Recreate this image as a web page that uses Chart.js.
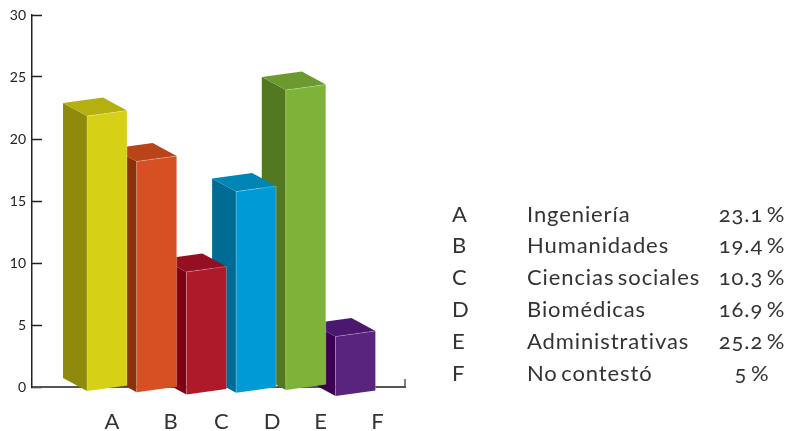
<!DOCTYPE html>
<html>
<head>
<meta charset="utf-8">
<title>Áreas</title>
<script src="https://cdn.jsdelivr.net/npm/chart.js@4"></script>
<style>
  html, body { margin: 0; background: #fff; }
  #wrap { position: relative; width: 790px; height: 431px; overflow: hidden; }
  canvas { display: block; }
  #legend { position: absolute; left: 0; top: 0; font: 22px Lato, sans-serif; letter-spacing: 0.9px; word-spacing: -3px; color: #333; font-variant-numeric: oldstyle-nums; }
  #legend span { position: absolute; white-space: nowrap; line-height: 32px; }
</style>
</head>
<body>
<div id="wrap">
  <canvas id="chart" width="790" height="431"></canvas>
  <div id="legend"></div>
</div>
<script>
const categories = ['A', 'B', 'C', 'D', 'E', 'F'];
const areas = ['Ingeniería', 'Humanidades', 'Ciencias sociales', 'Biomédicas', 'Administrativas', 'No contestó'];
const percentLabels = ['23.1 %', '19.4 %', '10.3 %', '16.9 %', '25.2 %', '5 %'];
const values = [23.1, 19.4, 10.3, 16.9, 25.2, 5];
const yTicks = [0, 5, 10, 15, 20, 25, 30];

const frontColors = ['#d6d016', '#d65023', '#ae1a2a', '#009bd6', '#7fb239', '#59247e'];
const sideColors = ['#8e8a0c', '#8c3208', '#7e0012', '#006b95', '#527822', '#3c0050'];
const topColors = ['#b5af10', '#b8441a', '#921022', '#0086b5', '#6c9a2e', '#4b1870'];

// the drawing is a bit loose: labels are not under the bars and each bar sits lower or higher
const labelNudge = [0.1, 0.28, 0.3, 0.32, 0.3, 0.44];
const barSink = [4, 5.3, 7.5, 5.7, 3, 9];
const depthX = 24, depthY = 13, slant = 5.5;

function poly(ctx, pts, fill) {
    ctx.beginPath();
    pts.forEach((p, i) => i ? ctx.lineTo(p[0], p[1]) : ctx.moveTo(p[0], p[1]));
    ctx.closePath();
    ctx.fillStyle = fill;
    ctx.fill();
}

function edge(ctx, a, b) {
    ctx.beginPath();
    ctx.moveTo(a[0], a[1]);
    ctx.lineTo(b[0], b[1]);
    ctx.stroke();
}

const bars3d = {
    id: 'bars3d',
    beforeDatasetDraw(chart, args) {
        const ctx = chart.ctx;
        const area = chart.chartArea;
        const bars = args.meta.data;

        ctx.save();
        // little end mark of the x axis
        ctx.strokeStyle = '#555';
        ctx.lineWidth = 1.5;
        edge(ctx, [area.right, area.bottom], [area.right, area.bottom - 8]);

        // right to left, every bar covers part of the side of the next one
        for (let i = bars.length - 1; i >= 0; i--) {
            const b = bars[i];
            const l = b.x - b.width / 2, r = b.x + b.width / 2;
            const yBot = b.base + barSink[i], yTop = b.y + barSink[i];
            const fl = [l, yTop], fr = [r, yTop - slant];
            const bl = [l, yBot], br = [r, yBot - slant];
            const backL = [l - depthX, yTop - depthY], backR = [r - depthX, yTop - slant - depthY];

            poly(ctx, [backL, fl, bl, [l - depthX, yBot - depthY]], sideColors[i]);
            poly(ctx, [backL, backR, fr, fl], topColors[i]);
            poly(ctx, [fl, fr, br, bl], b.options.backgroundColor);

            ctx.strokeStyle = 'rgba(255,255,255,0.35)';
            ctx.lineWidth = 0.7;
            edge(ctx, fl, bl);
            edge(ctx, fl, fr);
            edge(ctx, fr, br);
        }
        ctx.restore();
        return false;
    }
};

new Chart(document.getElementById('chart'), {
    type: 'bar',
    data: {
        datasets: [{
            data: values.map((v, i) => ({ x: i, y: v })),
            backgroundColor: frontColors,
            barThickness: 40,
            yAxisID: 'yBars'
        }]
    },
    options: {
        responsive: false,
        animation: false,
        layout: { padding: { left: 0, top: 15, right: 385, bottom: 0 } },
        plugins: { legend: { display: false }, tooltip: { enabled: false } },
        scales: {
            x: {
                type: 'linear',
                offset: false,
                min: -1.509,
                max: 5.996,
                afterFit: scale => {
                    scale.height = 44;
                    scale.paddingLeft = scale.paddingRight = 0;
                },
                afterBuildTicks: scale => {
                    scale.ticks = categories.map((c, i) => ({ value: i + labelNudge[i] }));
                },
                grid: { display: false },
                border: { display: true, color: '#555', width: 2 },
                ticks: {
                    callback: (value, index) => categories[index],
                    autoSkip: false,
                    maxRotation: 0,
                    padding: 14,
                    color: '#333',
                    font: { family: 'Lato', size: 22 }
                }
            },
            y: {
                min: 0,
                max: 30,
                afterFit: scale => {
                    scale.width = 32;
                    scale.paddingTop = scale.paddingBottom = 0;
                },
                afterBuildTicks: scale => {
                    scale.ticks = yTicks.map(v => ({ value: v }));
                },
                grid: { drawOnChartArea: false, tickLength: -10, tickColor: '#222', tickWidth: 1.5 },
                border: { color: '#222', width: 1.5 },
                ticks: {
                    padding: 16,
                    color: '#222',
                    font: { family: 'Lato', size: 14 }
                }
            },
            // the front faces are drawn a little shorter than the printed axis says
            yBars: { display: false, min: 0, max: 31.26 }
        }
    },
    plugins: [bars3d]
});

const legend = document.getElementById('legend');
function addText(text, left, top, center) {
    const s = document.createElement('span');
    s.textContent = text;
    s.style.left = left + 'px';
    s.style.top = top + 'px';
    if (center) s.style.transform = 'translateX(-50%)';
    legend.appendChild(s);
}
categories.forEach((c, i) => {
    const top = 197.5 + i * 31.8;
    addText(c, 452, top);
    addText(areas[i], 527, top);
    addText(percentLabels[i], 752, top, true);
});
</script>
</body>
</html>
